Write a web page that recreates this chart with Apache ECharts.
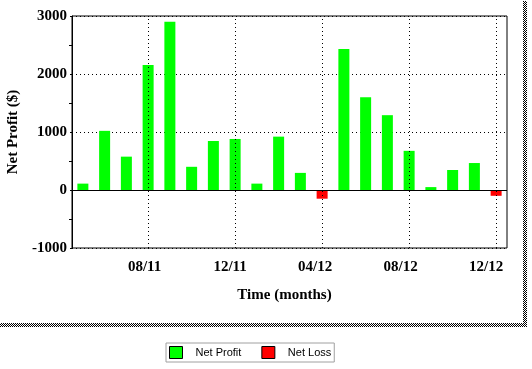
<!DOCTYPE html>
<html><head><meta charset="utf-8">
<script src="https://cdn.jsdelivr.net/npm/echarts@6/dist/echarts.min.js"></script>
<style>html,body{margin:0;padding:0;background:#fff}#c{width:532px;height:369px}</style>
</head><body><div id="c"></div>
<script>
const months = ['05/11','06/11','07/11','08/11','09/11','10/11','11/11','12/11','01/12','02/12','03/12','04/12','05/12','06/12','07/12','08/12','09/12','10/12','11/12','12/12'];
const netProfit = [110,1020,575,2155,2900,400,845,880,110,920,295,null,2430,1600,1290,675,50,345,465,null];
const netLoss = [null,null,null,null,null,null,null,null,null,null,null,-150,null,null,null,null,null,null,null,-100];
const labelMonths = ['08/11','12/11','04/12','08/12','12/12'];
const yMin = -1000, yMax = 3000, yInterval = 1000;

// checkered pattern for the frame shadow
const pat = document.createElement('canvas');
pat.width = 2; pat.height = 2;
const pc = pat.getContext('2d');
pc.fillStyle = '#fff'; pc.fillRect(0,0,2,2);
pc.fillStyle = '#000'; pc.fillRect(0,0,1,1); pc.fillRect(1,1,1,1);

const serif = '"Liberation Serif","Times New Roman",serif';
const shifts = {'08/11':'s0','12/11':'s1','04/12':'s2','08/12':'s3','12/12':'s4'};
const richBase = {fontFamily: serif, fontWeight:'bold', fontSize:15, color:'#000'};
const rich = {
  s0: Object.assign({padding:[0,7,0,0]}, richBase),
  s1: Object.assign({padding:[0,10,0,0]}, richBase),
  s2: Object.assign({padding:[0,14,0,0]}, richBase),
  s3: Object.assign({padding:[0,17,0,0]}, richBase),
  s4: Object.assign({padding:[0,20,0,0]}, richBase)
};
const dotted = {color:'#000', width:1, type:[1,3]};

const chart = echarts.init(document.getElementById('c'), null, {renderer:'canvas'});
chart.setOption({
  animation: false,
  backgroundColor: '#fff',
  grid: {left:72, right:25, top:16, bottom:121, show:true, borderColor:'#000', borderWidth:1, backgroundColor:'transparent', outerBoundsMode:'none'},
  legend: {
    left:166, top:343, orient:'horizontal',
    padding:[3,3,3,3], borderColor:'#a0a0a0', borderWidth:1,
    itemWidth:13, itemHeight:12, itemGap:20, icon:'rect',
    itemStyle:{borderColor:'#000', borderWidth:1},
    textStyle:{fontFamily:'"Liberation Sans",Arial,sans-serif', fontSize:11, color:'#000', padding:[0,0,0,8]},
    data:['Net Profit','Net Loss']
  },
  xAxis: {
    type:'category', data: months, boundaryGap:true,
    axisLine:{show:false}, axisTick:{show:false},
    splitLine:{show:false},
    axisLabel:{
      interval: (i, v) => labelMonths.indexOf(v) >= 0,
      margin:12,
      formatter: v => '{' + shifts[v] + '|' + v + '}',
      rich: rich
    },
    name:'Time (months)', nameLocation:'middle', nameGap:40,
    nameTextStyle:{fontFamily:serif, fontWeight:'bold', fontSize:15, color:'#000', padding:[0,10,0,0]}
  },
  yAxis: {
    type:'value', min:yMin, max:yMax, interval:yInterval,
    axisLine:{show:true, lineStyle:{color:'#000', width:1}},
    axisTick:{show:true, length:2, lineStyle:{color:'#000'}},
    minorTick:{show:true, splitNumber:2, length:3, lineStyle:{color:'#000'}},
    splitLine:{show:true, lineStyle:dotted},
    axisLabel:{margin:5, fontFamily:serif, fontWeight:'bold', fontSize:15, color:'#000', formatter: v => String(v)},
    name:'Net Profit ($)', nameLocation:'middle', nameGap:46, nameRotate:90,
    nameTextStyle:{fontFamily:serif, fontWeight:'bold', fontSize:15, color:'#000'}
  },
  series: [
    {
      name:'Net Profit', type:'bar', data: netProfit, barWidth:11, barGap:'-100%',
      itemStyle:{color:'#00ff00'},
      markLine:{
        silent:true, symbol:'none', label:{show:false}, animation:false,
        data: labelMonths.map(m => ({xAxis:m, lineStyle:dotted}))
          .concat([{yAxis:0, lineStyle:{color:'#000', width:1, type:'solid'}}])
      }
    },
    {
      name:'Net Loss', type:'bar', data: netLoss, barWidth:11, barGap:'-100%',
      itemStyle:{color:'#ff0000'}
    }
  ],
  graphic: [
    {type:'rect', shape:{x:523, y:1, width:4, height:326}, style:{fill:{image:pat, repeat:'repeat'}}, silent:true},
    {type:'rect', shape:{x:0, y:323, width:527, height:4}, style:{fill:{image:pat, repeat:'repeat'}}, silent:true}
  ]
});
</script></body></html>
